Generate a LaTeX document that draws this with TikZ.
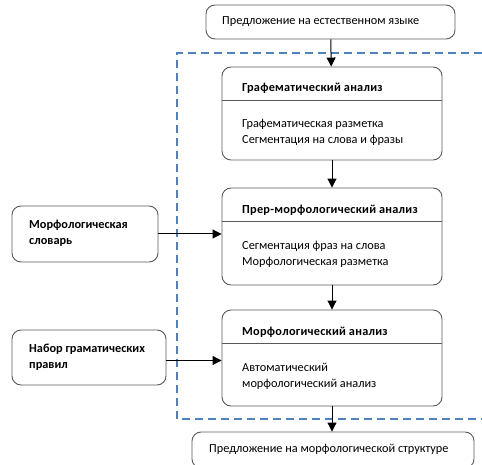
\documentclass[tikz,border=0pt]{standalone}
\usepackage{fontspec}
\setmainfont{Carlito}
\usetikzlibrary{arrows.meta}

\definecolor{boxline}{HTML}{5A5A5A}
\definecolor{dashblue}{HTML}{4F81BD}

\tikzset{
	box/.style={draw=boxline, line width=0.9pt, rounded corners=9pt, inner sep=0pt},
	txt/.style={anchor=west, inner sep=0pt, align=left, font=\fontsize{12.3}{16}\selectfont},
	src/.style={txt, font=\fontsize{12.3}{16}\selectfont\bfseries},
	ttl/.style={txt, font=\fontsize{12.3}{16}\selectfont\bfseries\addfontfeature{LetterSpace=2}},
	flow/.style={-{Triangle[length=9pt,width=9pt]}, line width=1pt},
	zone/.style={draw=dashblue, line width=1.3pt, dash pattern=on 8pt off 5pt}
}

\begin{document}
\begin{tikzpicture}[x=1pt, y=-1pt]
	\useasboundingbox (0,0) rectangle (482,465);
	\draw[zone] (482,53) -- (177,53) -- (177,419) -- (482,419);

	\node[box, minimum width=249pt, minimum height=34pt] (input) at (330.5,22) {};
	\node[box, minimum width=220pt, minimum height=93pt] (gr) at (332,113.5) {};
	\node[box, minimum width=220pt, minimum height=97pt] (prem) at (332,236.5) {};
	\node[box, minimum width=220pt, minimum height=96pt] (morph) at (332,358) {};
	\node[box, minimum width=282pt, minimum height=36pt] (output) at (333,450) {};
	\node[box, minimum width=146pt, minimum height=56pt] (dict) at (85,234) {};
	\node[box, minimum width=154pt, minimum height=55pt] (rules) at (89,357.5) {};
	\foreach \b in {gr,prem,morph}
		\draw[boxline, line width=0.9pt] ([yshift=-33.5pt]\b.north west) -- ([yshift=-33.5pt]\b.north east);

	\node[txt] (inputtext) at (222,22) {Предложение на естественном языке};
	\node[ttl] (grtitle) at (242,88) {Графематический анализ};
	\node[txt] (grtext) at (242,132.5) {Графематическая разметка\\Сегментация на слова и фразы};
	\node[ttl] (premtitle) at (242,210) {Прер-морфологический анализ};
	\node[txt] (premtext) at (242,254.5) {Сегментация фраз на слова\\Морфологическая разметка};
	\node[ttl] (morphtitle) at (242,332) {Морфологический анализ};
	\node[txt] (morphtext) at (242,376.5) {Автоматический\\морфологический анализ};
	\node[txt] (outputtext) at (209,449) {Предложение на морфологической структуре};
	\node[src] (dicttext) at (29,233.5) {Морфологическая\\словарь};
	\node[src] (rulestext) at (29,357) {Набор граматических\\правил};

	\draw[flow] (input) -- (gr);
	\draw[flow] (gr) -- (prem);
	\draw[flow] (prem) -- (morph);
	\draw[flow] (morph) -- (morph.south |- output.north);
	\draw[flow] (dict.east) -- (dict.east -| prem.west);
	\draw[flow] ([yshift=-3pt]rules.east) -- ([yshift=-3pt]rules.east -| morph.west);
\end{tikzpicture}
\end{document}
